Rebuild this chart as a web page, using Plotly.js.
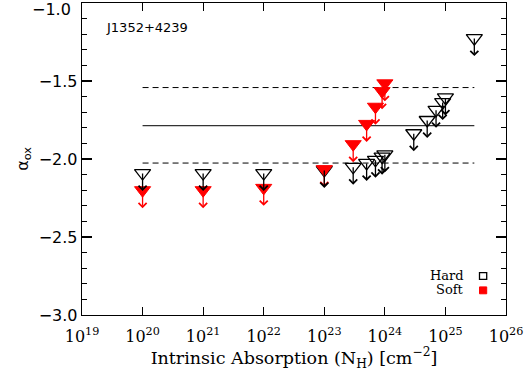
<!DOCTYPE html>
<html>
<head>
<meta charset="utf-8">
<script src="https://cdn.plot.ly/plotly-3.0.1.min.js"></script>
<style>html,body{margin:0;padding:0;background:#fff;}#chart{width:530px;height:375px;}</style>
</head>
<body>
<div id="chart"></div>
<script>
// ---- data ----
const hardNH  = [1e20, 1e21, 1e22, 1e23, 3e23, 5e23, 7e23, 9e23, 1e24, 3e24, 5e24, 7e24, 9e24, 1e25, 3e25];
const hardAox = [-2.09, -2.09, -2.09, -2.07, -2.05, -2.025, -2.005, -1.985, -1.97, -1.835, -1.75, -1.685, -1.635, -1.605, -1.225];
const softNH  = [1e20, 1e21, 1e22, 1e23, 3e23, 5e23, 7e23, 9e23, 1e24];
const softAox = [-2.20, -2.20, -2.185, -2.065, -1.905, -1.775, -1.665, -1.565, -1.515];
const lineNH = [1e20, 3e25];
const meanAox = -1.786;
const upperAox = -1.542;
const lowerAox = -2.026;
const xTickVals = [1e19, 1e20, 1e21, 1e22, 1e23, 1e24, 1e25, 1e26];
const xTickText = ['10<sup>19</sup>','10<sup>20</sup>','10<sup>21</sup>','10<sup>22</sup>','10<sup>23</sup>','10<sup>24</sup>','10<sup>25</sup>','10<sup>26</sup>'];
const yTickVals = [-3.0, -2.5, -2.0, -1.5, -1.0];
const yTickText = ['−3.0', '−2.5', '−2.0', '−1.5', '−1.0'];
const sourceName = 'J1352+4239';
const legendLabels = ['Hard', 'Soft'];

const traces = [
  {x: lineNH, y: [upperAox, upperAox], mode: 'lines', line: {color: '#000', width: 1, dash: '6px,4px'}, hoverinfo: 'skip'},
  {x: lineNH, y: [meanAox, meanAox], mode: 'lines', line: {color: '#333', width: 1.3}, hoverinfo: 'skip'},
  {x: lineNH, y: [lowerAox, lowerAox], mode: 'lines', line: {color: '#000', width: 1, dash: '6px,4px'}, hoverinfo: 'skip'},
  {x: hardNH, y: hardAox, mode: 'markers', name: 'Hard',
   marker: {symbol: 'triangle-down-open', size: 14, color: '#000', line: {color: '#000', width: 1.3}}},
  {x: softNH, y: softAox, mode: 'markers', name: 'Soft',
   marker: {symbol: 'triangle-down', size: 14, color: '#ff0000', line: {color: '#ff0000', width: 1}}}
];

// upper-limit arrows drawn from each data point downward
function arrows(xs, ys, color) {
  return xs.map((x, i) => ({
    x: Math.log10(x), y: ys[i], xref: 'x', yref: 'y',
    text: '', showarrow: true, arrowhead: 4, arrowsize: 1.2, arrowwidth: 1.3,
    arrowcolor: color, ax: 0, ay: -18, axref: 'pixel', ayref: 'pixel',
    yshift: -18, standoff: 0, startstandoff: 0, borderpad: 0, font: {size: 1}
  }));
}

// the top y tick label is drawn as an annotation so it is not cut by the page edge
const topTickIdx = yTickVals.length - 1;
const yTickTextShown = yTickText.map((t, i) => i === topTickIdx ? '' : t);

const annotations = [].concat(
  arrows(softNH, softAox, '#ff0000'),
  arrows(hardNH, hardAox, '#000'),
  [
    {text: yTickText[topTickIdx], xref: 'paper', yref: 'y', x: 0, y: yTickVals[topTickIdx],
     xanchor: 'right', yanchor: 'middle', xshift: -9, yshift: -6, showarrow: false,
     font: {family: 'DejaVu Sans', size: 16, color: '#000'}},
    {text: sourceName, xref: 'paper', yref: 'paper', x: 0.052, y: 0.923, xanchor: 'left', yanchor: 'middle',
     showarrow: false, font: {family: 'DejaVu Sans', size: 13, color: '#000'}},
    {text: legendLabels[0], xref: 'paper', yref: 'paper', x: 0.905, y: 0.127, xanchor: 'right', yanchor: 'middle',
     showarrow: false, font: {family: 'DejaVu Serif', size: 13, color: '#000'}},
    {text: legendLabels[1], xref: 'paper', yref: 'paper', x: 0.905, y: 0.083, xanchor: 'right', yanchor: 'middle',
     showarrow: false, font: {family: 'DejaVu Serif', size: 13, color: '#000'}}
  ]
);

const shapes = [
  {type: 'rect', xref: 'paper', yref: 'paper', x0: 0.9375, x1: 0.9545, y0: 0.114, y1: 0.136, line: {color: '#000', width: 1.3}, fillcolor: 'rgba(0,0,0,0)'},
  {type: 'rect', xref: 'paper', yref: 'paper', x0: 0.9375, x1: 0.9545, y0: 0.068, y1: 0.090, line: {color: '#ff0000', width: 1}, fillcolor: '#ff0000'}
];

const layout = {
  width: 530, height: 375,
  margin: {l: 82, r: 24, t: 3, b: 60},
  paper_bgcolor: '#fff', plot_bgcolor: '#fff',
  showlegend: false,
  xaxis: {
    type: 'log', range: [19, 26], tickvals: xTickVals, ticktext: xTickText,
    ticks: 'inside', ticklen: 8, tickwidth: 1.2, tickcolor: '#000',
    showline: true, linecolor: '#000', linewidth: 1.3, mirror: 'allticks',
    showgrid: false, zeroline: false, ticklabelstandoff: 6,
    tickfont: {family: 'DejaVu Serif', size: 16, color: '#000'},
    title: {text: 'Intrinsic Absorption (N<sub>H</sub>) [cm<sup>−2</sup>]', font: {family: 'DejaVu Serif', size: 17.5, color: '#000'}, standoff: 4}
  },
  yaxis: {
    range: [-3.0, -1.0], tickvals: yTickVals, ticktext: yTickTextShown,
    ticks: 'inside', ticklen: 10, tickwidth: 1.2, tickcolor: '#000',
    minor: {dtick: 0.1, tick0: -3, ticks: 'inside', ticklen: 5, tickwidth: 1.2, tickcolor: '#000'},
    showline: true, linecolor: '#000', linewidth: 1.3, mirror: 'allticks',
    showgrid: false, zeroline: false,
    tickfont: {family: 'DejaVu Sans', size: 16, color: '#000'},
    title: {text: 'α<sub>ox</sub>', font: {family: 'DejaVu Sans', size: 16, color: '#000'}, standoff: 6}
  },
  annotations: annotations,
  shapes: shapes
};

Plotly.newPlot('chart', traces, layout, {staticPlot: true});
</script>
</body>
</html>
